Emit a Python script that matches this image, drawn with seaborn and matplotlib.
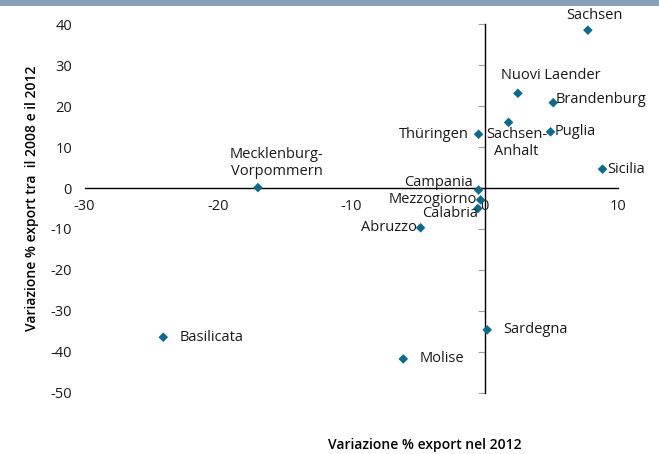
import pandas as pd
import matplotlib.pyplot as plt
import seaborn as sns
from matplotlib.patches import Rectangle

# ── Data ───────────────────────────────────────────────
regions = ['Sachsen', 'Nuovi Laender', 'Brandenburg', 'Sachsen-\nAnhalt', 'Thüringen',
           'Puglia', 'Sicilia', 'Mecklenburg-\nVorpommern', 'Campania', 'Mezzogiorno',
           'Calabria', 'Abruzzo', 'Sardegna', 'Basilicata', 'Molise']
var_2012 = [7.75, 2.5, 5.15, 1.8, -0.45, 4.95, 8.85, -17.0, -0.45, -0.3,
            -0.5, -4.8, 0.2, -24.1, -6.1]
var_2008_2012 = [38.5, 23.1, 20.8, 16.0, 13.1, 13.7, 4.6, 0.1, -0.5, -2.9,
                 -5.0, -9.7, -34.6, -36.4, -41.7]

x_ticks = [-30, -20, -10, 0, 10]
y_ticks = [-50, -40, -30, -20, -10, 0, 10, 20, 30, 40]

# label placement: (dx px, dy px, ha, va)
label_pos = {
    'Sachsen': (7, 7, 'center', 'bottom'),
    'Nuovi Laender': (33, 10, 'center', 'bottom'),
    'Brandenburg': (2, 3, 'left', 'center'),
    'Sachsen-\nAnhalt': (8, -5, 'center', 'top'),
    'Thüringen': (-10, 0, 'right', 'center'),
    'Puglia': (4, 0, 'left', 'center'),
    'Sicilia': (5, 0, 'left', 'center'),
    'Mecklenburg-\nVorpommern': (19, 9, 'center', 'bottom'),
    'Campania': (-6, 8, 'right', 'center'),
    'Mezzogiorno': (-4, 0, 'right', 'center'),
    'Calabria': (0, -5, 'right', 'center'),
    'Abruzzo': (-4, 0, 'right', 'center'),
    'Sardegna': (16, 0, 'left', 'center'),
    'Basilicata': (16, 0, 'left', 'center'),
    'Molise': (16, 0, 'left', 'center'),
}

df = pd.DataFrame({'Regione': regions, 'Var2012': var_2012, 'Var0812': var_2008_2012})

# ── Style ──────────────────────────────────────────────
sns.set_style('white')
plt.rcParams['font.family'] = ['Open Sans', 'DejaVu Sans']
plt.rcParams['axes.unicode_minus'] = False

fig = plt.figure(figsize=(6.59, 4.54), dpi=100)
ax = fig.add_axes([0.1284, 0.1344, 0.8092, 0.8127])

sns.scatterplot(data=df, x='Var2012', y='Var0812', marker='D', s=24,
                color='#0e6a8c', edgecolor='none', ax=ax, zorder=5)

for _, r in df.iterrows():
    dx, dy, ha, va = label_pos[r['Regione']]
    ax.annotate(r['Regione'], (r['Var2012'], r['Var0812']), xytext=(dx, dy),
                textcoords='offset pixels', ha=ha, va=va, fontsize=10.5,
                color='#1a1a1a', linespacing=1.1, zorder=6)

ax.set_xlim(-30, 10)
ax.set_ylim(-50, 40)
ax.set_xticks(x_ticks)
ax.set_yticks(y_ticks)

for s in ['top', 'right', 'left']:
    ax.spines[s].set_visible(False)
ax.spines['bottom'].set_position(('data', 0))
ax.spines['bottom'].set_color('black')
ax.spines['bottom'].set_linewidth(1)
ax.tick_params(axis='x', direction='out', length=5, width=0.8, color='#a0a0a0',
               labelsize=10.5, labelcolor='#1a1a1a', pad=3)
ax.tick_params(axis='y', length=0, pad=9, labelsize=10.5, labelcolor='#1a1a1a')

# vertical axis crossing at x = 0 (ticks only)
sec = ax.secondary_yaxis(0.75)
sec.set_yticks(y_ticks)
sec.tick_params(direction='in', length=5, width=0.8, color='#a0a0a0',
                labelright=False, labelleft=False)
sec.spines['right'].set_color('black')
sec.spines['right'].set_linewidth(1)

ax.set_xlabel('Variazione % export nel 2012', fontsize=10, fontweight='semibold',
              color='black')
ax.xaxis.set_label_coords(0.638, -0.122)
ax.set_ylabel('Variazione % export tra  il 2008 e il 2012', fontsize=10,
              fontweight='semibold', color='black')
ax.yaxis.set_label_coords(-0.086, 0.528)

# header strip
fig.add_artist(Rectangle((0, 1 - 6 / 454), 1, 6 / 454, transform=fig.transFigure,
                         color='#88a3b6', lw=0))

plt.savefig('out.png', dpi=100)
